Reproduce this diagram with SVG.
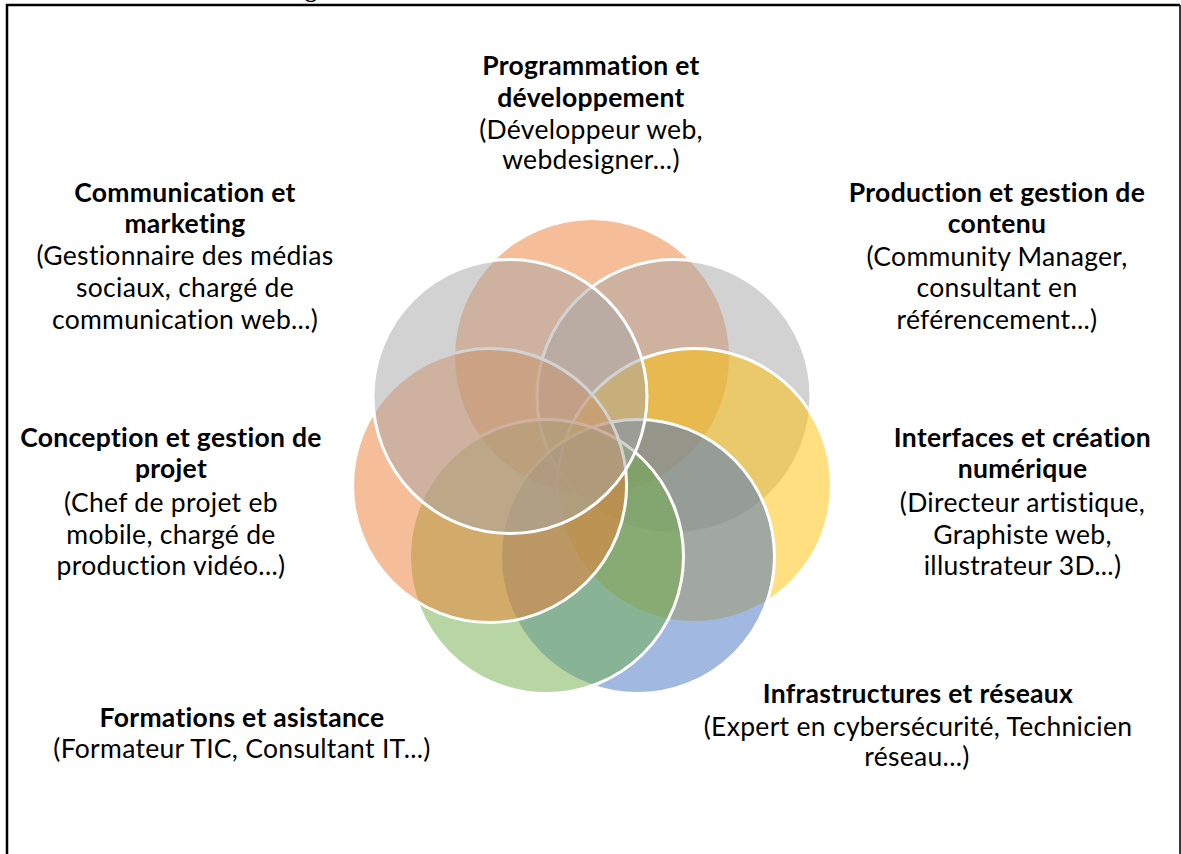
<svg xmlns="http://www.w3.org/2000/svg" width="1181" height="854" viewBox="0 0 1181 854">
  <style>
    .lbl { font-family: Lato, "Noto Sans", "DejaVu Sans", sans-serif; font-size: 26.5px; letter-spacing: 0.3px; fill: #000; text-anchor: middle; }
    .ttl { font-weight: 700; }
    .petal { stroke: #fff; stroke-width: 3; fill-opacity: 0.5; }
    .frame { fill: none; stroke: #000; stroke-width: 2.5; }
  </style>

  <rect width="1181" height="854" fill="#fff"/>

  <!-- frame around the figure (open at the bottom) -->
  <path class="frame" d="M7,854 V5 H1180"/>
  <line x1="1180" y1="5" x2="1180" y2="854" stroke="#222" stroke-width="1.8"/>
  <!-- descender of the caption line above the frame -->
  <text x="305" y="-3" font-family="'Liberation Serif', serif" font-weight="700" font-size="24">g</text>

  <!-- seven overlapping petals, drawn in sequence so that later ones sit on top -->
  <g id="programmation">
    <circle cx="592" cy="357" r="137" fill="#ED7D31" fill-opacity="0.5"/>
    <text class="lbl ttl" x="591" y="75">Programmation et</text>
    <text class="lbl ttl" x="591" y="106.5">développement</text>
    <text class="lbl" x="591" y="138.5">(Développeur web,</text>
    <text class="lbl" x="591" y="169">webdesigner...)</text>
  </g>

  <g id="production">
    <circle class="petal" cx="674" cy="396.5" r="137" fill="#A5A5A5"/>
    <text class="lbl ttl" x="997" y="202">Production et gestion de</text>
    <text class="lbl ttl" x="997" y="233">contenu</text>
    <text class="lbl" x="997" y="266">(Community Manager,</text>
    <text class="lbl" x="997" y="297">consultant en</text>
    <text class="lbl" x="997" y="328.5">référencement...)</text>
  </g>

  <g id="interfaces">
    <circle class="petal" cx="694.4" cy="485.4" r="137" fill="#FFC000"/>
    <text class="lbl ttl" x="1022.5" y="447">Interfaces et création</text>
    <text class="lbl ttl" x="1022.5" y="478">numérique</text>
    <text class="lbl" x="1022.5" y="512">(Directeur artistique,</text>
    <text class="lbl" x="1022.5" y="543.5">Graphiste web,</text>
    <text class="lbl" x="1022.5" y="575">illustrateur 3D...)</text>
  </g>

  <g id="infrastructures">
    <circle class="petal" cx="637.5" cy="556.6" r="137" fill="#4472C4"/>
    <text class="lbl ttl" x="918" y="703">Infrastructures et réseaux</text>
    <text class="lbl" x="918" y="736">(Expert en cybersécurité, Technicien</text>
    <text class="lbl" x="917" y="766">réseau...)</text>
  </g>

  <g id="formations">
    <circle class="petal" cx="546.5" cy="556.6" r="137" fill="#70AD47"/>
    <text class="lbl ttl" x="242" y="727">Formations et asistance</text>
    <text class="lbl" x="242" y="757.5">(Formateur TIC, Consultant IT...)</text>
  </g>

  <g id="conception">
    <circle class="petal" cx="489.6" cy="485.4" r="137" fill="#ED7D31"/>
    <text class="lbl ttl" x="171" y="447">Conception et gestion de</text>
    <text class="lbl ttl" x="171" y="477.5">projet</text>
    <text class="lbl" x="171" y="512">(Chef de projet eb</text>
    <text class="lbl" x="171" y="543.5">mobile, chargé de</text>
    <text class="lbl" x="171" y="575">production vidéo...)</text>
  </g>

  <g id="communication">
    <circle class="petal" cx="510" cy="396.5" r="137" fill="#A5A5A5"/>
    <text class="lbl ttl" x="185" y="202">Communication et</text>
    <text class="lbl ttl" x="185" y="233">marketing</text>
    <text class="lbl" x="185" y="265">(Gestionnaire des médias</text>
    <text class="lbl" x="185" y="297">sociaux, chargé de</text>
    <text class="lbl" x="185" y="328.5">communication web...)</text>
  </g>

  <!-- no connectors: the petals touch by overlap only -->
  <g id="connectors"/>
</svg>
